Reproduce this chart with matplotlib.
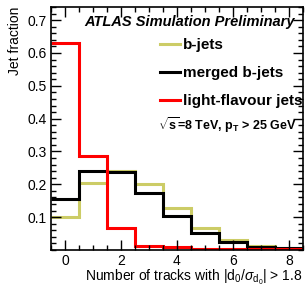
import numpy as np
import matplotlib.pyplot as plt
from matplotlib.ticker import MultipleLocator

plt.rcParams['font.family'] = ['Liberation Sans', 'DejaVu Sans']
plt.rcParams['mathtext.fontset'] = 'custom'
plt.rcParams['mathtext.rm'] = 'Liberation Sans'
plt.rcParams['mathtext.it'] = 'Liberation Sans:italic'
plt.rcParams['mathtext.bf'] = 'Liberation Sans:bold'

# number of tracks (bin centres 0..8)
n_tracks = np.arange(0, 9)
b_jets = [0.100, 0.205, 0.240, 0.200, 0.129, 0.067, 0.030, 0.012, 0.005]
merged_b = [0.155, 0.240, 0.237, 0.174, 0.103, 0.052, 0.024, 0.009, 0.005]
light = [0.630, 0.285, 0.067, 0.011, 0.009, 0.002, 0.002, 0.002, 0.002]

edges = np.append(n_tracks - 0.5, n_tracks[-1] + 0.5)

fig = plt.figure(figsize=(3.05, 2.87), dpi=100)
ax = fig.add_axes([0.1672, 0.1289, 0.8262, 0.8467])

ax.stairs(b_jets, edges, baseline=None, color='#cccc66', lw=2.2, label='b-jets')
ax.stairs(merged_b, edges, baseline=None, color='black', lw=2.2, label='merged b-jets')
ax.stairs(light, edges, baseline=None, color='red', lw=2.2, label='light-flavour jets')

ax.set_xlim(-0.5, 8.5)
ax.set_ylim(0, 0.74)
ax.set_xticks([0, 2, 4, 6, 8])
ax.set_yticks([0.1, 0.2, 0.3, 0.4, 0.5, 0.6, 0.7])
ax.xaxis.set_minor_locator(MultipleLocator(0.5))
ax.yaxis.set_minor_locator(MultipleLocator(0.02))
ax.tick_params(which='both', direction='in', top=True, right=True, labelsize=10, width=1)
ax.tick_params(which='major', length=7)
ax.tick_params(which='minor', length=3.5)
ax.tick_params(axis='x', pad=3)
ax.tick_params(axis='y', pad=3)
for s in ax.spines.values():
    s.set_linewidth(1.2)

ax.set_ylabel('Jet fraction', fontsize=10, loc='top', labelpad=4)
ax.set_xlabel(r'Number of tracks with |d$_0$/$\sigma_{\mathrm{d}_0}$| > 1.8', fontsize=10, loc='right', labelpad=0)

fig.text(0.967, 0.923, 'ATLAS Simulation Preliminary', ha='right', va='center',
         fontsize=10.5, fontweight='bold', fontstyle='italic')
fig.text(0.974, 0.565, r'$\sqrt{\mathbf{s}}$=8 TeV, p$_\mathbf{T}$ > 25 GeV', ha='right', va='center',
         fontsize=9, fontweight='bold')

leg = ax.legend(loc='upper left', bbox_to_anchor=(0.525, 0.868), bbox_transform=fig.transFigure,
                frameon=False, fontsize=11, handlelength=1.3, handletextpad=0.2,
                labelspacing=0.92, borderaxespad=0, borderpad=0)
for t in leg.get_texts():
    t.set_fontweight('bold')

fig.savefig('out.png', dpi=100)
